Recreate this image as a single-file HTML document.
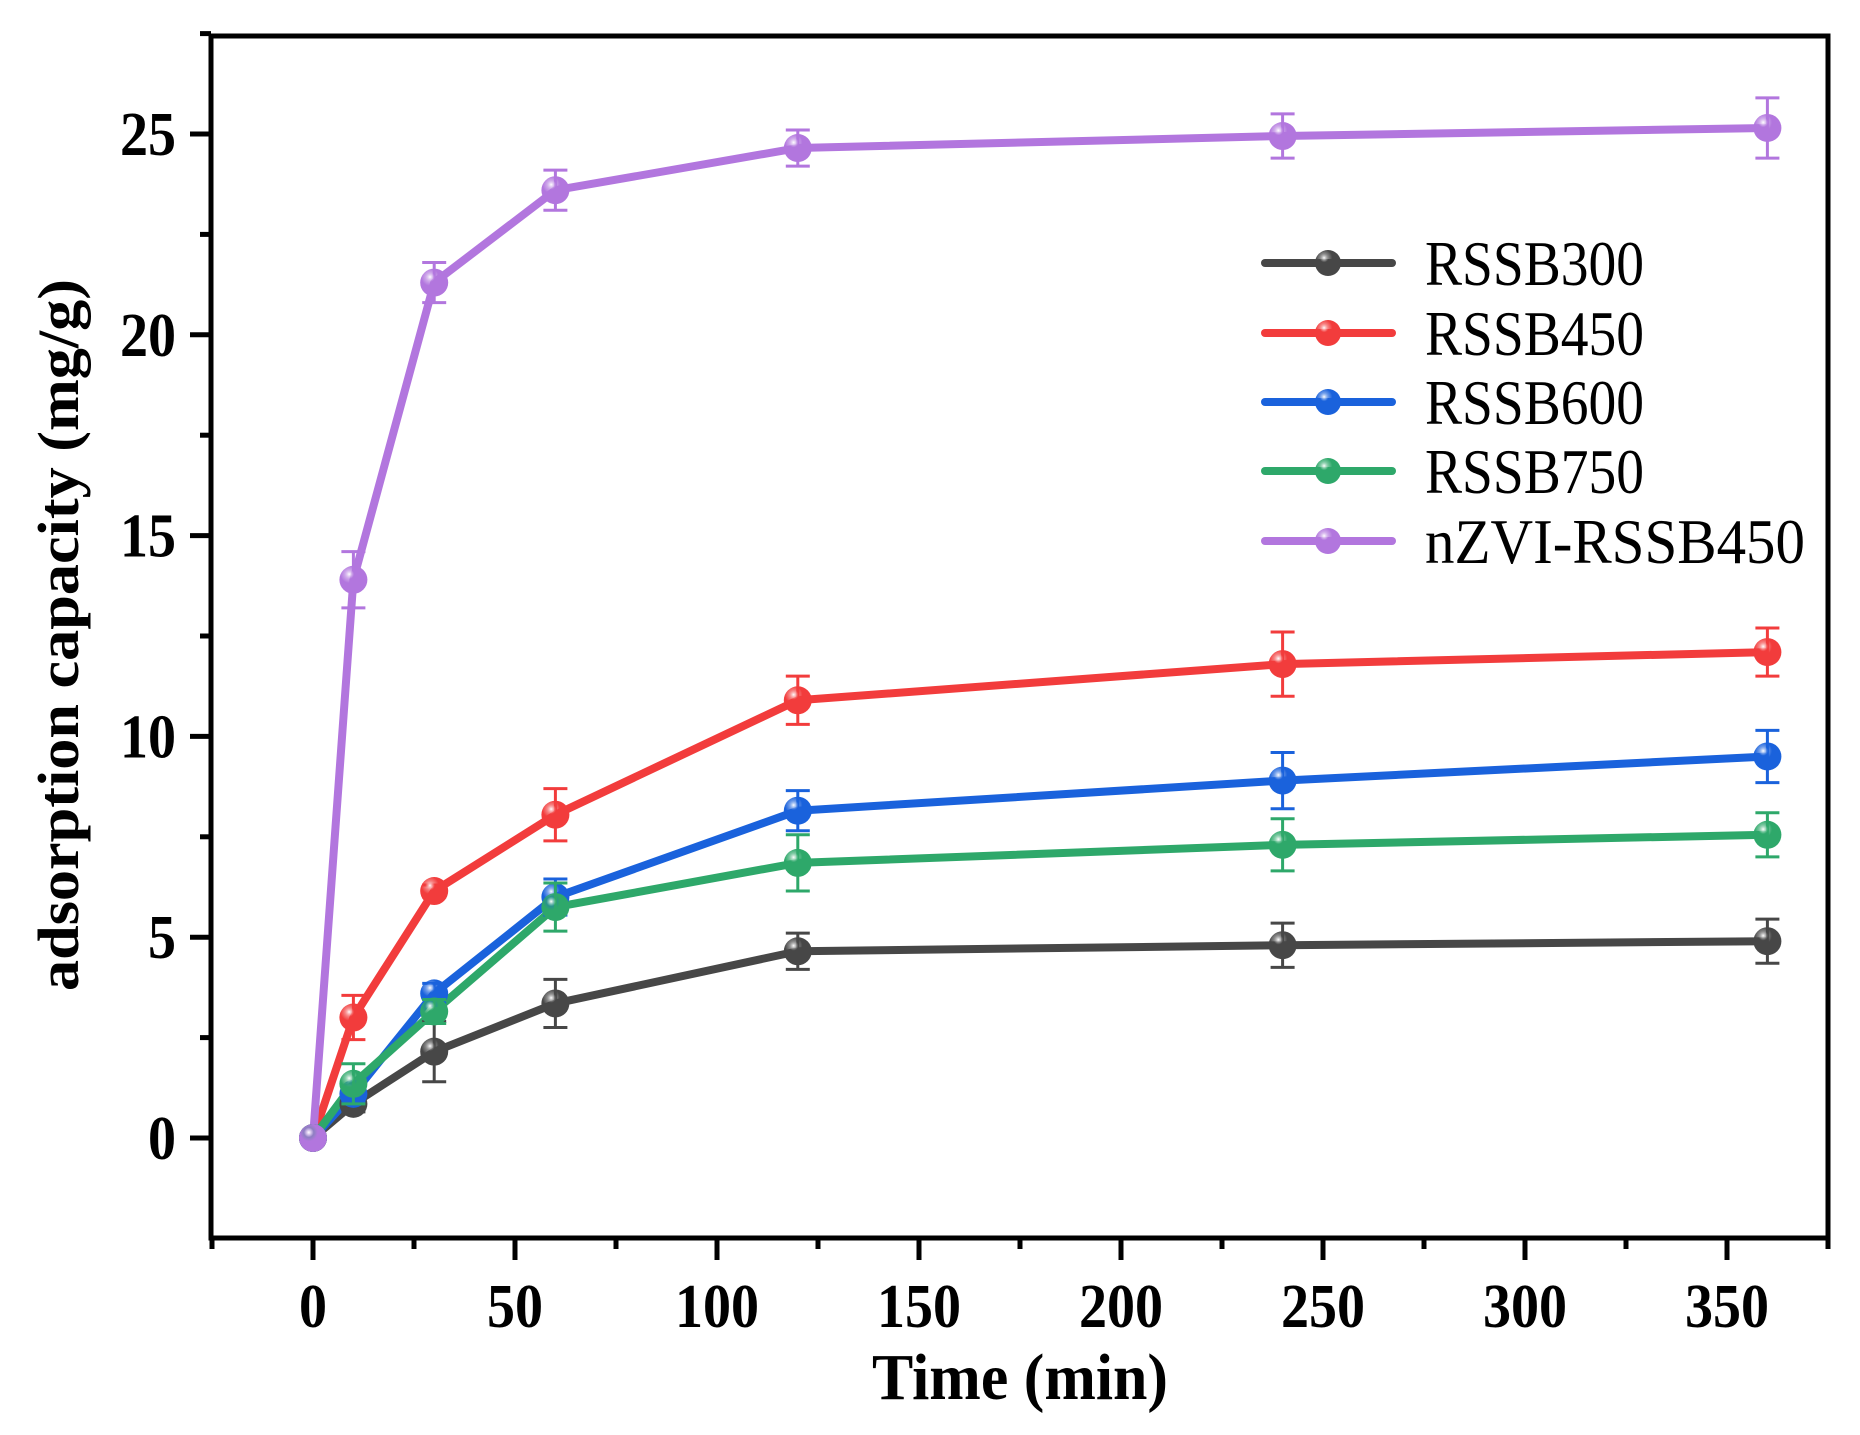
<!DOCTYPE html>
<html><head><meta charset="utf-8"><style>
html,body{margin:0;padding:0;background:#fff;}
svg{display:block;}
</style></head><body>
<svg id="c" width="1860" height="1435" xmlns="http://www.w3.org/2000/svg"></svg>
<script>
const svg=document.getElementById('c');
const X=t=>313+t*4.04, Y=v=>1138-v*40.16;
let s='';
const series=[
 ['RSSB300','#474747',[0,0.85,2.15,3.35,4.65,4.8,4.9],[0,0.2,0.75,0.6,0.45,0.55,0.55]],
 ['RSSB450','#f23c3c',[0,3.0,6.15,8.05,10.9,11.8,12.1],[0,0.55,0.15,0.65,0.6,0.8,0.6]],
 ['RSSB600','#1a62dc',[0,1.1,3.6,6.0,8.15,8.9,9.5],[0,0.2,0.25,0.45,0.5,0.7,0.65]],
 ['RSSB750','#2ea86a',[0,1.35,3.15,5.75,6.85,7.3,7.55],[0,0.5,0.3,0.6,0.7,0.65,0.55]],
 ['nZVI-RSSB450','#b276de',[0,13.9,21.3,23.6,24.65,24.95,25.15],[0,0.7,0.5,0.5,0.45,0.55,0.75]]
];
const T=[0,10,30,60,120,240,360];
s+='<defs>';
series.forEach((d,i)=>{s+=`<radialGradient id="g${i}" cx="0.35" cy="0.3" r="0.7"><stop offset="0" stop-color="#fff"/><stop offset="0.25" stop-color="${d[1]}" stop-opacity="0.7"/><stop offset="0.45" stop-color="${d[1]}"/></radialGradient>`});
s+='</defs>';
s+='<rect x="211" y="36" width="1617" height="1202" fill="none" stroke="#000" stroke-width="5"/>';
const F='font-family="Liberation Serif,serif" font-weight="bold"';
for(let t=-25;t<=375;t+=25){const x=X(t);const maj=(t%50===0);s+=`<line x1="${x}" y1="1238" x2="${x}" y2="${maj?1260:1249}" stroke="#000" stroke-width="5"/>`;
 if(maj&&t>=0&&t<=350){const n=String(t).length;s+=`<text x="${x}" y="1327" ${F} font-size="62" text-anchor="middle" textLength="${n*28}" lengthAdjust="spacingAndGlyphs">${t}</text>`;}}
for(let v=0;v<=27.5;v+=2.5){const y=Y(v);const maj=(v%5===0);s+=`<line x1="211" y1="${y}" x2="${maj?190:200}" y2="${y}" stroke="#000" stroke-width="5"/>`;
 if(maj){const n=String(v).length;s+=`<text x="176" y="${y+21}" ${F} font-size="62" text-anchor="end" textLength="${n*28}" lengthAdjust="spacingAndGlyphs">${v}</text>`;}}
s+=`<text x="872" y="1399" ${F} font-size="66" textLength="296" lengthAdjust="spacingAndGlyphs">Time (min)</text>`;
s+=`<text transform="translate(78,635) rotate(-90)" ${F} font-size="58" x="-356" textLength="712" lengthAdjust="spacingAndGlyphs">adsorption capacity (mg/g)</text>`;
series.forEach((d,i)=>{
 const pts=T.map((t,k)=>X(t)+','+Y(d[2][k])).join(' ');
 s+=`<polyline points="${pts}" fill="none" stroke="${d[1]}" stroke-width="8" stroke-linejoin="round"/>`;
});
series.forEach((d,i)=>{
 T.forEach((t,k)=>{const x=X(t),y=Y(d[2][k]),e=d[3][k]*40.16;
  if(e>0){s+=`<line x1="${x}" y1="${y-e}" x2="${x}" y2="${y+e}" stroke="${d[1]}" stroke-width="3"/><line x1="${x-12}" y1="${y-e}" x2="${x+12}" y2="${y-e}" stroke="${d[1]}" stroke-width="3"/><line x1="${x-12}" y1="${y+e}" x2="${x+12}" y2="${y+e}" stroke="${d[1]}" stroke-width="3"/>`;}
  s+=`<circle cx="${x}" cy="${y}" r="14" fill="url(#g${i})"/>`;});
});
const ly=[263,333,402,471,541];
series.forEach((d,i)=>{const y=ly[i];
 s+=`<line x1="1265" y1="${y}" x2="1392" y2="${y}" stroke="${d[1]}" stroke-width="8" stroke-linecap="round"/><circle cx="1328" cy="${y}" r="13" fill="url(#g${i})"/>`;
 const w=i===4?380:219;
 s+=`<text x="1425" y="${y+22}" font-family="Liberation Serif,serif" font-size="64" textLength="${w}" lengthAdjust="spacingAndGlyphs">${d[0]}</text>`;});
svg.innerHTML=s;
</script>
</body></html>
